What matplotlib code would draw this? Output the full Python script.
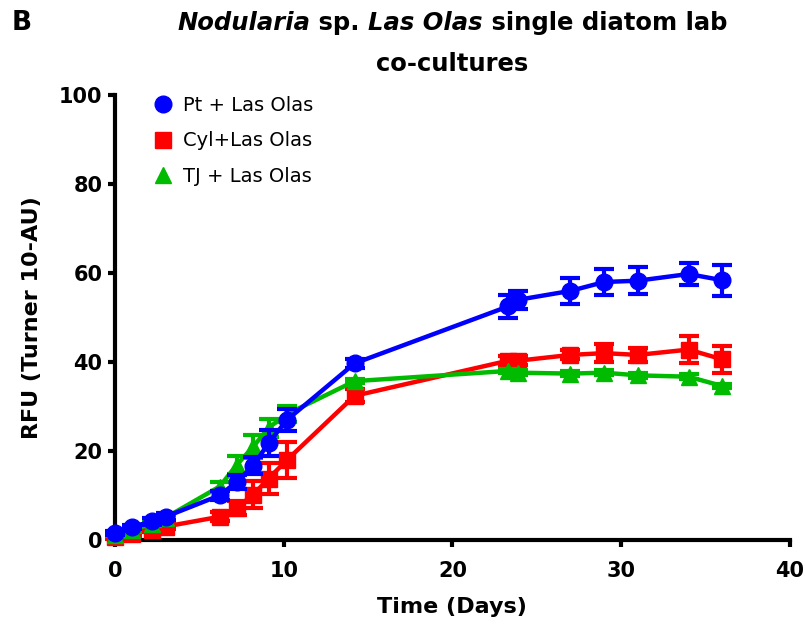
import numpy as np
import matplotlib
matplotlib.use("Agg")
import matplotlib.pyplot as plt
from matplotlib.lines import Line2D

plt.rcParams['font.family'] = ['DejaVu Sans']

# tempos (dias)
dias = [0, 1, 2.2, 3, 6.2, 7.2, 8.2, 9.1, 10.2, 14.2, 23.3, 23.9, 27, 29, 31, 34, 36]

# Pt + Las Olas
pt_media = [1.6, 2.9, 4.2, 5.2, 10.0, 13.0, 16.7, 21.8, 27.0, 39.7, 52.5, 54.0, 56.0, 58.0, 58.3, 59.8, 58.4]
pt_erro = [0.5, 0.5, 0.8, 0.8, 1.0, 1.5, 2.0, 3.0, 2.5, 1.0, 2.5, 2.0, 3.0, 3.0, 3.0, 2.5, 3.5]

# Cyl + Las Olas
cyl_media = [0.6, 1.4, 2.2, 3.0, 5.2, 7.2, 10.2, 13.8, 18.0, 32.4, 40.3, 40.3, 41.6, 42.0, 41.6, 42.8, 40.6]
cyl_erro = [0.5, 0.5, 0.5, 0.5, 1.0, 1.5, 3.0, 3.5, 4.0, 1.5, 1.0, 1.0, 1.0, 2.0, 1.5, 3.0, 3.0]

# TJ + Las Olas
tj_media = [1.2, 2.2, 3.6, 5.0, 12.0, 16.8, 21.0, 25.2, 28.3, 35.7, 38.0, 37.6, 37.4, 37.6, 37.0, 36.7, 34.6]
tj_erro = [0.4, 0.4, 0.5, 0.5, 1.0, 2.0, 2.5, 2.0, 1.8, 0.5, 0.5, 0.5, 0.5, 0.5, 0.5, 0.5, 0.5]

series = [
    ("Pt + Las Olas", pt_media, pt_erro, "#0000FF", "o", 12, 5),
    ("Cyl+Las Olas", cyl_media, cyl_erro, "#FF0000", "s", 11, 3),
    ("TJ + Las Olas", tj_media, tj_erro, "#00BB00", "^", 11, 4),
]

fig = plt.figure(figsize=(8.05, 6.27), dpi=100)
ax = fig.add_axes([0.143, 0.139, 0.838, 0.709])

marcas_legenda = []
for nome, media, erro, cor, marcador, tam, z in series:
    ax.errorbar(dias, media, yerr=erro, color=cor, marker=marcador, markersize=tam,
                linewidth=3.2, elinewidth=3, capsize=7.5, capthick=3,
                zorder=z, clip_on=False)
    marcas_legenda.append(Line2D([], [], color=cor, marker=marcador, markersize=tam,
                                 linestyle='none', label=nome))

ax.set_xlim(0, 40)
ax.set_ylim(0, 100)
ax.set_xticks([0, 10, 20, 30, 40])
ax.set_yticks([0, 20, 40, 60, 80, 100])
for lado in ['top', 'right']:
    ax.spines[lado].set_visible(False)
for lado in ['left', 'bottom']:
    ax.spines[lado].set_linewidth(3)
ax.tick_params(width=3, length=5, labelsize=15)
ax.tick_params(axis='x', pad=10)
ax.tick_params(axis='y', pad=4)
for lbl in ax.get_xticklabels() + ax.get_yticklabels():
    lbl.set_fontweight('bold')

ax.set_xlabel("Time (Days)", fontsize=16, fontweight='bold', labelpad=12)
ax.set_ylabel("RFU (Turner 10-AU)", fontsize=16, fontweight='bold', labelpad=12)

ax.legend(handles=marcas_legenda, loc='upper left', frameon=False, fontsize=14,
          handlelength=1.0, handletextpad=0.5, labelspacing=0.85, borderaxespad=0.2,
          bbox_to_anchor=(0.04, 1.025))

# titulo com partes em italico
partes = [("Nodularia", 'italic'), (" sp. ", 'normal'), ("Las Olas", 'italic'),
          (" single diatom lab", 'normal')]
fig.canvas.draw()
r = fig.canvas.get_renderer()
textos = []
for txt, estilo in partes:
    t = fig.text(0, 0, txt, fontsize=17.5, fontweight='bold', style=estilo,
                 va='baseline', ha='left')
    textos.append(t)
larguras = [t.get_window_extent(r).width for t in textos]
x0 = 452 - sum(larguras) / 2
for t, w in zip(textos, larguras):
    t.set_position((x0 / 805, 1 - 30 / 627))
    x0 += w
fig.text(452 / 805, 1 - 71 / 627, "co-cultures", fontsize=17.5, fontweight='bold',
         ha='center', va='baseline')
fig.text(12 / 805, 1 - 30 / 627, "B", fontsize=19, fontweight='bold', va='baseline')

fig.savefig("out.png", dpi=100)
